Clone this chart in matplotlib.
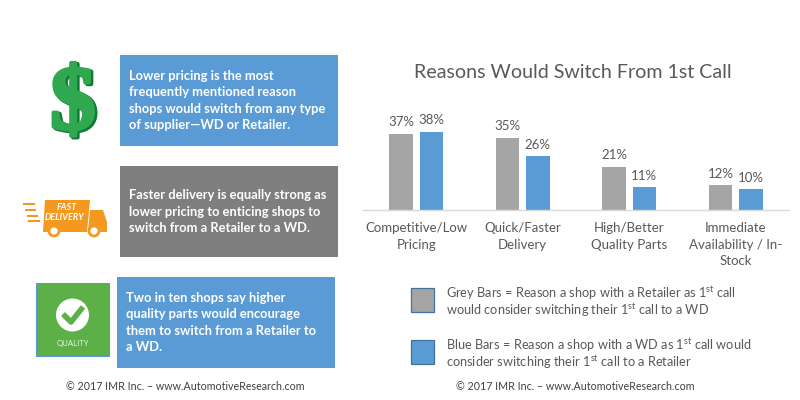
import matplotlib
matplotlib.use('Agg')
import matplotlib.pyplot as plt
import matplotlib.patheffects as pe
from matplotlib.patches import Rectangle, Polygon, Circle
import numpy as np

plt.rcParams['font.family'] = ['Lato', 'DejaVu Sans']
plt.rcParams['mathtext.fontset'] = 'custom'
plt.rcParams['mathtext.rm'] = 'Lato'

categories = ["Competitive/Low\nPricing", "Quick/Faster\nDelivery",
              "High/Better\nQuality Parts", "Immediate\nAvailability / In-\nStock"]
grey_values = [37, 35, 21, 12]
blue_values = [38, 26, 11, 10]

title = "Reasons Would Switch From 1st Call"
footer = "© 2017 IMR Inc. – www.AutomotiveResearch.com"
box_texts = [
    "Lower pricing is the most\nfrequently mentioned reason\nshops would switch from any type\nof supplier—WD or Retailer.",
    "Faster delivery is equally strong as\nlower pricing to enticing shops to\nswitch from a Retailer to a WD.",
    "Two in ten shops say higher\nquality parts would encourage\nthem to switch from a Retailer to\na WD.",
]
legend_grey = ["Grey Bars = Reason a shop with a Retailer as 1$^{\\mathrm{st}}$ call",
               "would consider switching their 1$^{\\mathrm{st}}$ call to a WD"]
legend_blue = ["Blue Bars = Reason a shop with a WD as 1$^{\\mathrm{st}}$ call would",
               "consider switching their 1$^{\\mathrm{st}}$ call to a Retailer"]

BLUE = "#5b9bd5"
GREY = "#a5a5a5"
DARK = "#7f7f7f"
TEXT = "#595959"
ORANGE = "#f5981f"
GREEN = "#5cb047"

fig = plt.figure(figsize=(8, 4), dpi=100, facecolor="white")

# overlay in pixel coordinates for the boxes and icons
bg = fig.add_axes([0, 0, 1, 1])
bg.set_xlim(0, 800)
bg.set_ylim(400, 0)
bg.axis("off")

boxes = [(120, 55, BLUE), (120, 166, DARK), (117, 277, BLUE)]
for (x, y, color), txt in zip(boxes, box_texts):
    bg.add_patch(Rectangle((x, y), 218, 91, color=color, lw=0))
    bg.text(x + 9, y + 45.5, txt, color="white", fontsize=9.3, fontweight="bold",
            va="center", ha="left", linespacing=1.45)

# dollar sign
bg.text(73, 107, "$", color="#2fa84f", fontsize=66, fontweight="bold", family="Liberation Serif",
        ha="center", va="center",
        path_effects=[pe.Stroke(offset=(1.5, -1), linewidth=3, foreground="#0f7a35"),
                      pe.Stroke(linewidth=2.5, foreground="#2fa84f"), pe.Normal()])

# truck
for y0, x0, x1 in [(203, 23, 35), (209, 25, 36), (215, 27, 38), (220, 28, 40)]:
    bg.add_patch(Rectangle((x0, y0), x1 - x0, 2.4, color=ORANGE, lw=0))
bg.add_patch(Polygon([(45, 200), (90, 200), (87, 232), (43, 232)], color=ORANGE, lw=0))
bg.add_patch(Polygon([(90, 210), (103, 210), (107, 222), (107, 232), (88, 232)], color=ORANGE, lw=0))
for cx in [54, 94]:
    bg.add_patch(Circle((cx, 231), 5, fc="white", ec=ORANGE, lw=2))
bg.text(67, 207.5, "FAST", color="white", fontsize=6.5, fontweight="bold", style="italic",
        ha="center", va="center")
bg.text(65, 217, "DELIVERY", color="white", fontsize=6.5, fontweight="bold", style="italic",
        ha="center", va="center")

# quality badge
bg.add_patch(Rectangle((36, 283), 73, 73, fc=GREEN, ec=BLUE, lw=0.8))
bg.add_patch(Circle((72.5, 315), 16.5, color="white", lw=0))
bg.plot([63, 71, 83], [314, 322, 307], color=GREEN, lw=4, solid_capstyle="butt")
bg.text(72.5, 343.5, "QUALITY", color="white", fontsize=5.6, ha="center", va="center", alpha=0.85)

# footers
bg.text(185, 386, footer, color="#404040", fontsize=7.7, ha="center", va="center")
bg.text(575, 386, footer, color="#404040", fontsize=7.7, ha="center", va="center")

# chart title
bg.text(573, 73, title, color=TEXT, fontsize=14.1, ha="center", va="center")

# legend
for y, color, lines in [(288, GREY, legend_grey), (339.5, BLUE, legend_blue)]:
    bg.add_patch(Rectangle((410.5, y), 23, 24, fc=color, ec="#41719c", lw=0.9))
    bg.text(446, y + 10, lines[0], color=TEXT, fontsize=9.2, ha="left", va="baseline")
    bg.text(446, y + 27, lines[1], color=TEXT, fontsize=9.2, ha="left", va="baseline")

# bar chart
ax = fig.add_axes([363 / 800, (400 - 209.7) / 400, 426 / 800, 110 / 400])
ax.patch.set_alpha(0)
x = np.arange(len(categories))
w = 0.22
off = 0.142
bars_g = ax.bar(x - off, grey_values, w, color=GREY)
bars_b = ax.bar(x + off, blue_values, w, color=BLUE)
ax.bar_label(bars_g, labels=[f"{v}%" for v in grey_values], padding=4, color=TEXT, fontsize=9.5)
ax.bar_label(bars_b, labels=[f"{v}%" for v in blue_values], padding=4, color=TEXT, fontsize=9.5)
ax.set_xlim(-0.5, 3.5)
ax.set_ylim(0, 110 / 2.05)
ax.set_xticks(x)
ax.set_xticklabels(categories, color=TEXT, fontsize=9.5, linespacing=1.45)
ax.tick_params(axis="x", length=0, pad=9)
ax.set_yticks([])
for s in ["top", "left", "right"]:
    ax.spines[s].set_visible(False)
ax.spines["bottom"].set_color("#d9d9d9")
ax.spines["bottom"].set_linewidth(1.0)

plt.savefig("out.png", dpi=100)
